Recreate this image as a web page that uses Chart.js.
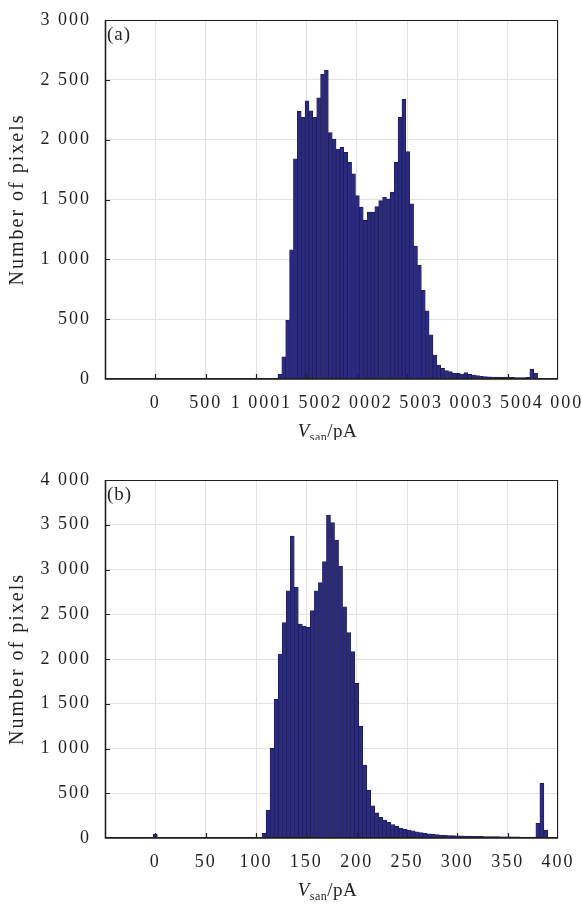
<!DOCTYPE html>
<html>
<head>
<meta charset="utf-8">
<script src="https://cdn.jsdelivr.net/npm/chart.js@4.4.1/dist/chart.umd.min.js"></script>
<style>
  html, body { margin: 0; padding: 0; background: #fff; }
  body { width: 582px; height: 904px; position: relative; overflow: hidden; }
  canvas { position: absolute; left: 0; }
  #histA { top: 0; }
  #histB { top: 440px; }
</style>
</head>
<body>
<canvas id="histA" width="582" height="440"></canvas>
<canvas id="histB" width="582" height="464"></canvas>
<script>
// (a) histogram of V_san, 100 bins, pA
const aBinStart = -14
const aBinWidth = 38.5
const aCounts = [
    0, 0, 0, 0, 0, 0, 0, 0, 0, 0,
    0, 0, 0, 0, 0, 0, 0, 0, 0, 0,
    0, 0, 0, 0, 0, 0, 0, 0, 0, 0,
    0, 0, 40, 186, 490, 1080, 1840, 2236, 2186, 2325,
    2240, 2186, 2350, 2547, 2580, 2060, 2005, 1922, 1936, 1894,
    1811, 1714, 1533, 1436, 1325, 1394, 1394, 1440, 1490, 1519,
    1505, 1561, 1811, 2186, 2340, 1900, 1464, 1110, 950, 740,
    570, 370, 200, 117, 89, 70, 61, 50, 47, 42,
    53, 40, 33, 28, 22, 20, 18, 17, 16, 15,
    14, 13, 13, 12, 12, 12, 14, 83, 50, 0
]
const aXRange = [-500, 4000]
const aYRange = [0, 3000]

// (b) histogram of V_san, 100 bins, pA
const bBinStart = -2
const bBinWidth = 4
const bCounts = [
    45, 0, 0, 0, 0, 0, 0, 0, 0, 0,
    0, 0, 0, 0, 0, 0, 0, 0, 0, 0,
    0, 0, 0, 0, 0, 0, 0, 52, 313, 1002,
    1550, 2056, 2406, 2763, 3374, 2801, 2391, 2369, 2354, 2540,
    2763, 2853, 3088, 3609, 3523, 3330, 3039, 2584, 2294, 2082,
    1728, 1251, 815, 536, 360, 280, 230, 200, 175, 150,
    130, 110, 97, 88, 80, 70, 60, 52, 47, 42,
    37, 34, 31, 28, 27, 25, 24, 22, 21, 20,
    19, 18, 17, 16, 15, 15, 14, 13, 13, 12,
    12, 11, 11, 10, 10, 164, 611, 89, 0, 0
]
const bXRange = [-50, 400]
const bYRange = [0, 4000]

const tickStep = { a: 500, b: 50 }

const serif = "'Liberation Serif', 'Times New Roman', serif"
const ink = '#231f20'
const barFill = '#2b2a7e'
const barEdge = '#1a1a55'

const thousands = v => String(v).replace(/\B(?=(\d{3})+(?!\d))/g, ' ')

function toPoints(start, width, counts) {
    const pts = []
    counts.forEach((c, i) => {
        if (c > 0) pts.push({ x: start + (i + 0.5) * width, y: c })
    })
    return pts
}

// the printed figure uses a wide-set serif, so space the letters out a bit
const spacing = {
    id: 'spacing',
    beforeDraw(chart) {
        chart.ctx.letterSpacing = '2px'
    }
}

// box, inward tick marks, panel tag and the x title with subscript
const frame = {
    id: 'frame',
    afterDatasetsDraw(chart, args, opts) {
        const { ctx, chartArea: a, scales: { x, y } } = chart
        ctx.save()
        ctx.strokeStyle = ink
        ctx.lineWidth = 1.2
        ctx.beginPath()
        x.ticks.forEach(t => {
            if (t.value <= x.min || t.value >= x.max) return
            const px = Math.round(x.getPixelForValue(t.value)) + 0.5
            ctx.moveTo(px, a.bottom)
            ctx.lineTo(px, a.bottom - 5)
        })
        y.ticks.forEach(t => {
            if (t.value <= y.min || t.value >= y.max) return
            const py = Math.round(y.getPixelForValue(t.value)) + 0.5
            ctx.moveTo(a.left, py)
            ctx.lineTo(a.left + 5, py)
        })
        ctx.stroke()
        ctx.lineWidth = 1
        ctx.strokeRect(a.left + 0.5, a.top + 0.5, a.width - 1, a.height - 1)
        ctx.lineWidth = 1.6
        ctx.beginPath()
        ctx.moveTo(a.left + 0.5, a.top)
        ctx.lineTo(a.left + 0.5, a.bottom)
        ctx.lineTo(a.right, a.bottom)
        ctx.stroke()

        ctx.fillStyle = ink
        ctx.textBaseline = 'top'
        ctx.textAlign = 'left'
        ctx.letterSpacing = '1px'
        ctx.font = '19px ' + serif
        ctx.fillText(opts.tag, a.left + 2, a.top + 6)

        // V_san/pA
        const parts = [
            { t: 'V', f: 'italic 19px ' + serif, dy: 0 },
            { t: 'san', f: '12px ' + serif, dy: 4 },
            { t: '/pA', f: '19px ' + serif, dy: 0 }
        ]
        ctx.letterSpacing = '0.5px'
        ctx.textBaseline = 'alphabetic'
        let total = 0
        parts.forEach(p => { ctx.font = p.f; p.w = ctx.measureText(p.t).width; total += p.w })
        let cx = (a.left + a.right) / 2 - total / 2 - 4
        const base = a.bottom + 58
        parts.forEach(p => {
            ctx.font = p.f
            ctx.fillText(p.t, cx, base + p.dy)
            cx += p.w
        })
        ctx.restore()
    }
}

function makeHist(id, tag, start, width, counts, xRange, yRange, step, topPad, xAxisH) {
    return new Chart(document.getElementById(id), {
        type: 'bar',
        data: {
            datasets: [{
                data: toPoints(start, width, counts),
                backgroundColor: barFill,
                borderColor: barEdge,
                borderWidth: 0.7,
                barPercentage: 1,
                categoryPercentage: 1
            }]
        },
        options: {
            responsive: false,
            animation: false,
            layout: { padding: { top: topPad, right: 24, left: 0, bottom: 0 } },
            plugins: {
                legend: { display: false },
                tooltip: { enabled: false },
                frame: { tag: tag }
            },
            scales: {
                x: {
                    type: 'linear',
                    offset: false,
                    min: xRange[0],
                    max: xRange[1],
                    grid: { color: '#e2e2e2', offset: false, drawTicks: false },
                    border: { display: false },
                    ticks: {
                        stepSize: step,
                        autoSkip: false,
                        maxRotation: 0,
                        minRotation: 0,
                        padding: 13,
                        color: ink,
                        font: { family: serif, size: 18 },
                        callback: v => v === xRange[0] ? '' : thousands(v)
                    },
                    afterFit: s => {
                        s.height = xAxisH
                        s.paddingLeft = 0
                        s.paddingRight = 0
                    }
                },
                y: {
                    min: yRange[0],
                    max: yRange[1],
                    grid: { color: '#e2e2e2', drawTicks: false },
                    border: { display: false },
                    ticks: {
                        stepSize: 500,
                        padding: 14,
                        color: ink,
                        font: { family: serif, size: 18 },
                        callback: v => thousands(v)
                    },
                    title: {
                        display: true,
                        text: 'Number of pixels',
                        color: ink,
                        font: { family: serif, size: 20 },
                        padding: { top: 6, bottom: 0 }
                    },
                    afterFit: s => {
                        s.width = 105
                        s.paddingTop = 0
                        s.paddingBottom = 0
                    }
                }
            }
        },
        plugins: [spacing, frame]
    })
}

makeHist('histA', '(a)', aBinStart, aBinWidth, aCounts, aXRange, aYRange, tickStep.a, 20, 61)
makeHist('histB', '(b)', bBinStart, bBinWidth, bCounts, bXRange, bYRange, tickStep.b, 40, 66)
</script>
</body>
</html>
